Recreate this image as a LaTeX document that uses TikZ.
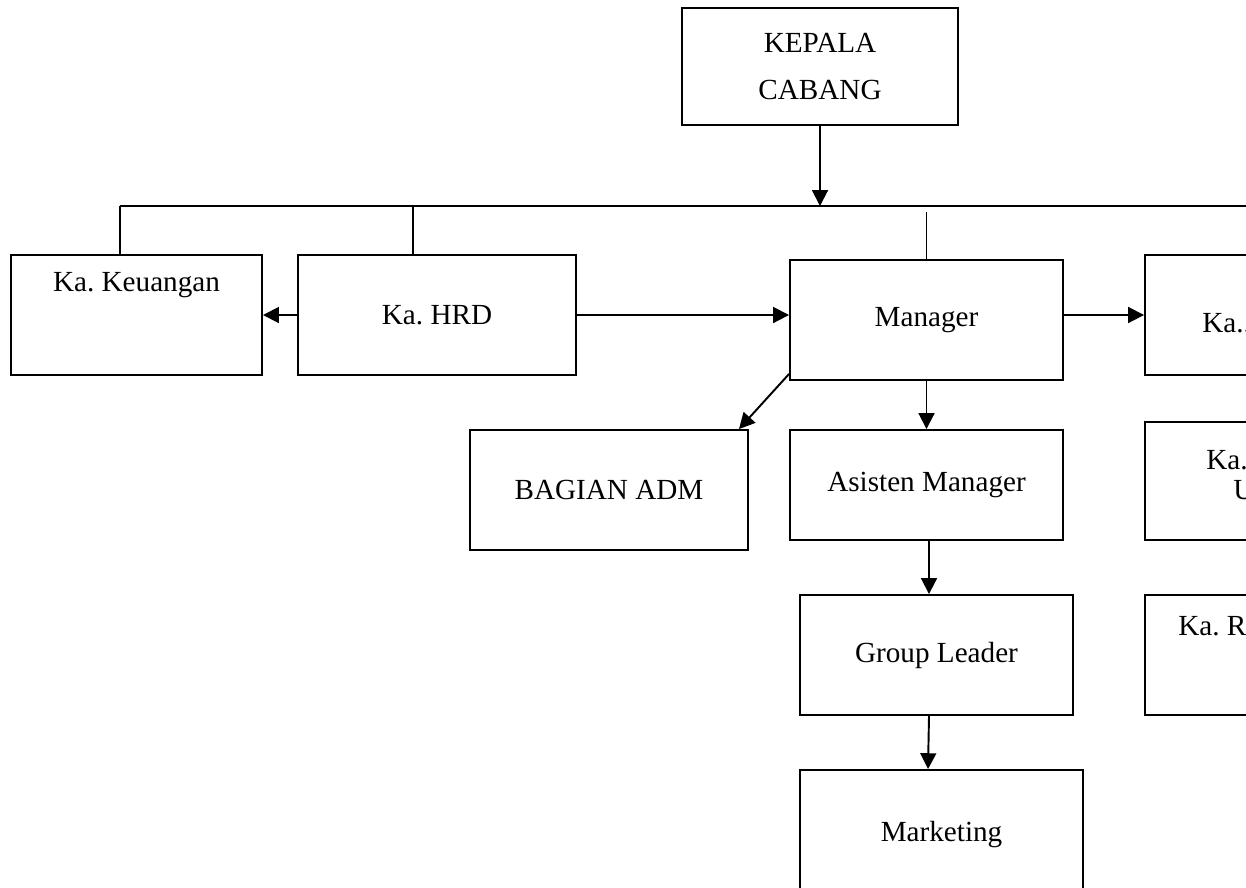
\documentclass[tikz,border=0pt]{standalone}
\usepackage{fontspec}
\setmainfont{Liberation Serif}
\frenchspacing
\usetikzlibrary{arrows.meta,positioning}
\tikzset{
  box/.style={draw, line width=1.1pt, inner sep=0pt, align=center},
  link/.style={line width=1.1pt},
  arr/.style={line width=1.1pt, -{Triangle[length=9pt,width=9pt]}}
}
\begin{document}
\begin{tikzpicture}[font=\fontsize{16.6}{26.7}\selectfont]
\useasboundingbox (0,0) rectangle (24.92,-17.74);
\clip (0,0) rectangle (24.92,-17.74);
% top
\node[box, minimum width=5.52cm, minimum height=2.34cm] (kc) at (16.40,-1.33) {KEPALA\\CABANG};
% first row
\node[box, minimum width=5.02cm, minimum height=2.40cm] (keu) at (2.73,-6.30) {};
\node (keutxt) at ([yshift=-0.62cm]keu.north) {Ka. Keuangan};
\node[box, minimum width=5.56cm, minimum height=2.40cm] (hrd) at (8.74,-6.30) {Ka. HRD};
\node[box, minimum width=5.46cm, minimum height=2.40cm] (mgr) at (18.53,-6.40) {Manager};
\node[box, minimum width=5.50cm, minimum height=2.40cm] (ka1) at (25.65,-6.30) {};
\node[anchor=west, inner sep=0pt] (ka1txt) at (24.04,-6.46) {Ka..};
% second row
\node[box, minimum width=5.56cm, minimum height=2.40cm] (adm) at (12.18,-9.80) {BAGIAN ADM};
\node[box, minimum width=5.46cm, minimum height=2.20cm] (asm) at (18.53,-9.70) {Asisten Manager};
\node[box, minimum width=5.50cm, minimum height=2.36cm] (ka2) at (25.65,-9.62) {};
\node[anchor=west, inner sep=0pt] (ka2a) at (24.12,-9.20) {Ka.};
\node[anchor=west, inner sep=0pt] (ka2b) at (24.66,-9.80) {U};
% third row
\node[box, minimum width=5.46cm, minimum height=2.40cm] (gl) at (18.73,-13.10) {Group Leader};
\node[box, minimum width=5.50cm, minimum height=2.40cm] (ka3) at (25.65,-13.10) {};
\node[anchor=west, inner sep=0pt] (ka3txt) at (23.56,-12.52) {Ka. R};
% bottom
\node[box, minimum width=5.66cm, minimum height=2.60cm] (mkt) at (18.83,-16.70) {Marketing};
% bar
\coordinate (d1) at (2.40,-4.12);
\coordinate (d2) at (8.26,-4.12);
\coordinate (d3) at (25.50,-4.12);
\draw[link] (d1) -- (d3);
\draw[link] (d1) -- (d1 |- keu.north);
\draw[link] (d2) -- (d2 |- hrd.north);
\draw[link] ([yshift=-0.12cm]d1 -| mgr.north) -- (mgr.north);
\draw[arr] (kc.south) -- (kc.south |- d1);
% arrows
\draw[arr] (hrd.west) -- (keu.east);
\draw[arr] (hrd.east) -- (hrd.east -| mgr.west);
\draw[arr] (ka1.west -| mgr.east) -- (ka1.west);
\draw[arr] ([yshift=0.14cm]mgr.south west) -- ([xshift=-0.2cm]adm.north east);
\draw[arr] (mgr.south) -- (asm.north);
\draw[arr] ([xshift=0.05cm]asm.south) -- ([xshift=0.05cm]asm.south |- gl.north);
\draw[arr] ([xshift=0.05cm]asm.south |- gl.south) -- ([xshift=0.03cm]asm.south |- mkt.north);
\end{tikzpicture}
\end{document}
